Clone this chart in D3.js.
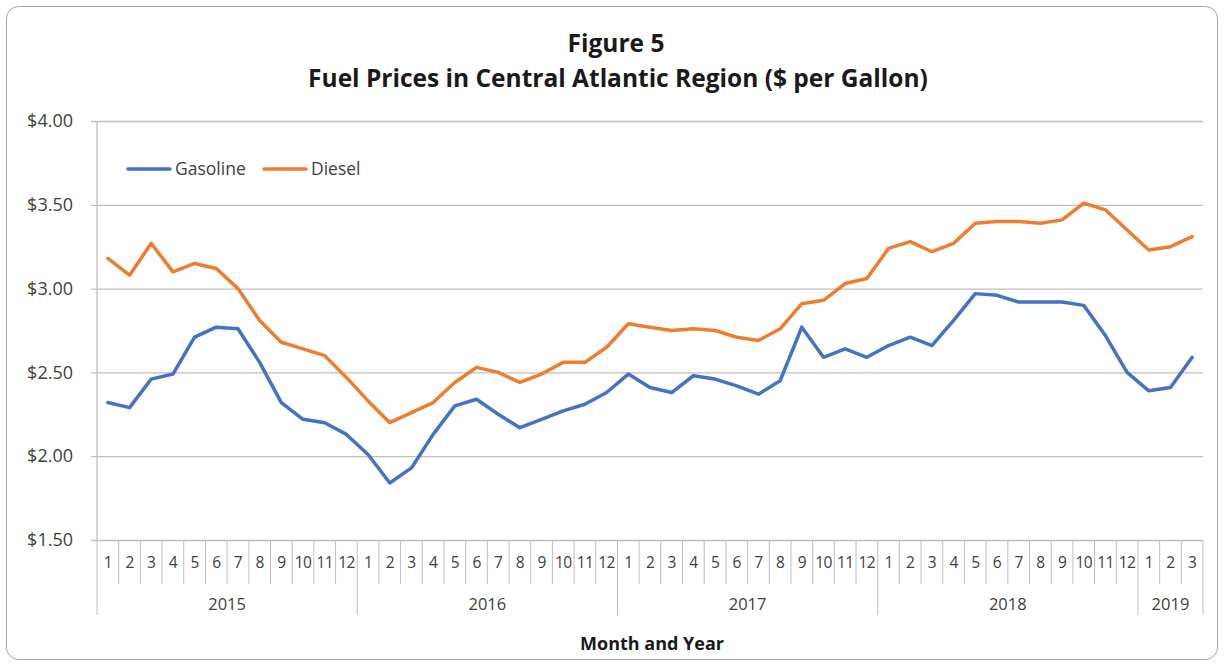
<!DOCTYPE html>
<html>
<head>
<meta charset="utf-8">
<script src="https://cdn.jsdelivr.net/npm/d3@7"></script>
<style>
  body { margin: 0; background: #fff; }
  svg text { font-family: "Open Sans", Lato, sans-serif; fill: #404040; }
</style>
</head>
<body>
<div id="chart"></div>
<script>
// data
var years = [2015, 2016, 2017, 2018, 2019];
var monthsInYear = [12, 12, 12, 12, 3];
var gasoline = [
    2.32, 2.29, 2.46, 2.49, 2.71, 2.77, 2.76, 2.56, 2.32, 2.22, 2.20, 2.13,
    2.01, 1.84, 1.93, 2.13, 2.30, 2.34, 2.25, 2.17, 2.22, 2.27, 2.31, 2.38,
    2.49, 2.41, 2.38, 2.48, 2.46, 2.42, 2.37, 2.45, 2.77, 2.59, 2.64, 2.59,
    2.66, 2.71, 2.66, 2.81, 2.97, 2.96, 2.92, 2.92, 2.92, 2.90, 2.72, 2.50,
    2.39, 2.41, 2.59
];
var diesel = [
    3.18, 3.08, 3.27, 3.10, 3.15, 3.12, 3.00, 2.81, 2.68, 2.64, 2.60, 2.47,
    2.33, 2.20, 2.26, 2.32, 2.44, 2.53, 2.50, 2.44, 2.49, 2.56, 2.56, 2.65,
    2.79, 2.77, 2.75, 2.76, 2.75, 2.71, 2.69, 2.76, 2.91, 2.93, 3.03, 3.06,
    3.24, 3.28, 3.22, 3.27, 3.39, 3.40, 3.40, 3.39, 3.41, 3.51, 3.47, 3.35,
    3.23, 3.25, 3.31
];
var yTicks = [1.5, 2.0, 2.5, 3.0, 3.5, 4.0];
var seriesNames = ['Gasoline', 'Diesel'];
var seriesColors = ['#4472C4', '#ED7D31'];

var chartW = 1225, chartH = 666;
var plotLeft = 97, plotRight = 1203, plotTop = 121, plotBottom = 540;
var gridColor = '#bfbfbf';

// build the month categories from the years
var categories = [];
years.forEach(function(yr, yi) {
    for (var m = 1; m <= monthsInYear[yi]; m++) {
        categories.push({ key: yr + '-' + m, year: yr, month: m });
    }
});

var x = d3.scaleBand()
    .domain(categories.map(function(d) { return d.key; }))
    .range([plotLeft, plotRight])
    .padding(0);

var y = d3.scaleLinear()
    .domain([1.5, 4.0])
    .range([plotBottom, plotTop]);

var svg = d3.select('#chart').append('svg')
    .attr('width', chartW)
    .attr('height', chartH);

// chart frame
svg.append('rect')
    .attr('x', 6.5).attr('y', 6.5)
    .attr('width', 1211).attr('height', 653)
    .attr('rx', 12)
    .attr('fill', '#fff')
    .attr('stroke', '#a6a6a6')
    .attr('stroke-width', 1);

// titles
svg.append('text')
    .attr('x', 616).attr('y', 52)
    .attr('text-anchor', 'middle')
    .style('font-size', '24.5px')
    .style('font-weight', 'bold')
    .style('fill', '#1a1a1a')
    .text('Figure 5');
svg.append('text')
    .attr('x', 618).attr('y', 87)
    .attr('text-anchor', 'middle')
    .style('font-size', '24.5px')
    .style('font-weight', 'bold')
    .style('fill', '#1a1a1a')
    .text('Fuel Prices in Central Atlantic Region ($ per Gallon)');

// y axis with gridlines
var yAxis = d3.axisLeft(y)
    .tickValues(yTicks)
    .tickSize(-(plotRight - plotLeft))
    .tickPadding(24)
    .tickFormat(d3.format('$.2f'));

var yg = svg.append('g')
    .attr('transform', 'translate(' + plotLeft + ',0)')
    .call(yAxis);
yg.select('.domain').remove();
yg.selectAll('.tick line')
    .attr('x1', -6)
    .attr('stroke', gridColor)
    .attr('stroke-width', 1.3);
yg.selectAll('.tick text')
    .attr('x', -24)
    .style('font-size', '18px')
    .style('fill', '#404040');

// left axis line
svg.append('line')
    .attr('x1', plotLeft).attr('x2', plotLeft)
    .attr('y1', plotTop).attr('y2', plotBottom)
    .attr('stroke', gridColor)
    .attr('stroke-width', 1.3);

// month axis
var xAxis = d3.axisBottom(x)
    .tickSize(0)
    .tickPadding(17)
    .tickFormat(function(k) { return k.split('-')[1]; });

var xg = svg.append('g')
    .attr('transform', 'translate(0,' + plotBottom + ')')
    .call(xAxis);
xg.select('.domain').remove();
xg.selectAll('.tick text')
    .style('font-size', '15.5px')
    .style('letter-spacing', '-0.6px')
    .style('fill', '#404040');

// separators between months
var cuts = categories.map(function(d) { return x(d.key); })
    .concat([x(categories[categories.length - 1].key) + x.bandwidth()]);
svg.selectAll('line.month-sep')
    .data(cuts)
    .enter().append('line')
    .attr('class', 'month-sep')
    .attr('x1', function(d) { return d; })
    .attr('x2', function(d) { return d; })
    .attr('y1', plotBottom)
    .attr('y2', plotBottom + 44)
    .attr('stroke', gridColor)
    .attr('stroke-width', 1);

// year groups
var yearGroups = [];
var idx = 0;
years.forEach(function(yr, yi) {
    var first = categories[idx], last = categories[idx + monthsInYear[yi] - 1];
    yearGroups.push({ year: yr, x0: x(first.key), x1: x(last.key) + x.bandwidth() });
    idx += monthsInYear[yi];
});

svg.selectAll('line.year-sep')
    .data([yearGroups[0].x0].concat(yearGroups.map(function(d) { return d.x1; })))
    .enter().append('line')
    .attr('class', 'year-sep')
    .attr('x1', function(d) { return d; })
    .attr('x2', function(d) { return d; })
    .attr('y1', plotBottom + 44)
    .attr('y2', plotBottom + 75)
    .attr('stroke', gridColor)
    .attr('stroke-width', 1);

svg.selectAll('text.year')
    .data(yearGroups)
    .enter().append('text')
    .attr('class', 'year')
    .attr('x', function(d) { return (d.x0 + d.x1) / 2; })
    .attr('y', plotBottom + 70)
    .attr('text-anchor', 'middle')
    .style('font-size', '16.5px')
    .text(function(d) { return d.year; });

svg.append('text')
    .attr('x', 652).attr('y', 650)
    .attr('text-anchor', 'middle')
    .style('font-size', '18px')
    .style('font-weight', 'bold')
    .style('fill', '#1a1a1a')
    .text('Month and Year');

// lines
var line = d3.line()
    .x(function(d, i) { return x(categories[i].key) + x.bandwidth() / 2; })
    .y(function(d) { return y(d); });

[gasoline, diesel].forEach(function(series, si) {
    svg.append('path')
        .datum(series)
        .attr('d', line)
        .attr('fill', 'none')
        .attr('stroke', seriesColors[si])
        .attr('stroke-width', 3.5)
        .attr('stroke-linejoin', 'round')
        .attr('stroke-linecap', 'round');
});

// legend
var legendX = [128, 264];
seriesNames.forEach(function(name, i) {
    var g = svg.append('g').attr('transform', 'translate(' + legendX[i] + ',169)');
    g.append('line')
        .attr('x1', 0).attr('x2', 42)
        .attr('y1', 0).attr('y2', 0)
        .attr('stroke', seriesColors[i])
        .attr('stroke-width', 3.5)
        .attr('stroke-linecap', 'round');
    g.append('text')
        .attr('x', 47).attr('y', 6)
        .style('font-size', '17.5px')
        .text(name);
});
</script>
</body>
</html>
